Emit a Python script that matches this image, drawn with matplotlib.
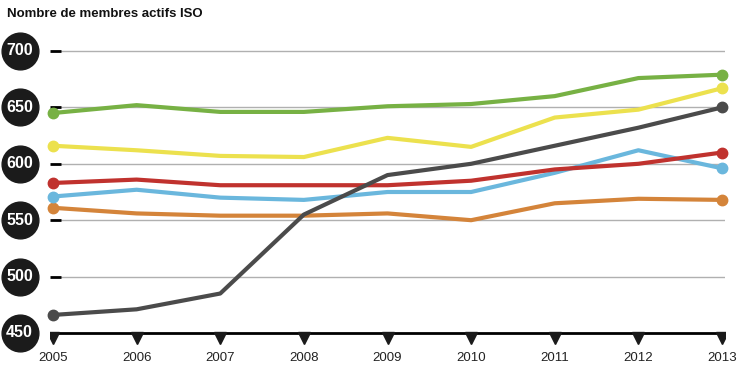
import matplotlib
matplotlib.use("Agg")
import matplotlib.pyplot as plt
import matplotlib.transforms as mtransforms

plt.rcParams['font.family'] = ['Liberation Sans', 'DejaVu Sans']

years = [2005, 2006, 2007, 2008, 2009, 2010, 2011, 2012, 2013]
y_ticks = [700, 650, 600, 550, 500, 450]

# series
green = [645, 652, 646, 646, 651, 653, 660, 676, 679]
yellow = [616, 612, 607, 606, 623, 615, 641, 648, 667]
red = [583, 586, 581, 581, 581, 585, 595, 600, 610]
blue = [571, 577, 570, 568, 575, 575, 592, 612, 596]
orange = [561, 556, 554, 554, 556, 550, 565, 569, 568]
grey = [466, 471, 485, 555, 590, 600, 616, 632, 650]

series = [
    (orange, '#d4843a'),
    (blue, '#6ab7dd'),
    (red, '#c0322e'),
    (yellow, '#ece14e'),
    (green, '#77b144'),
    (grey, '#4b4b4b'),
]

W, H = 738, 374
fig = plt.figure(figsize=(W / 100, H / 100), dpi=100)
ax = fig.add_axes([50 / W, 29 / H, 675 / W, 305 / H])
ax.set_xlim(2004.9641, 2013.0359)
ax.set_ylim(439.36, 709.75)
ax.axis('off')

# gridlines + little tick dashes
for v in y_ticks[:-1]:
    ax.plot([2005.084, 2013.036], [v, v], color='#b0b0b0', lw=1, zorder=1)
    ax.plot([2004.9641, 2005.10], [v, v], color='black', lw=2, zorder=2,
            solid_capstyle='butt')

# bottom axis line with triangle ticks
ax.plot([2004.9641, 2013.0359], [450, 450], color='black', lw=2, zorder=2,
        solid_capstyle='butt')
shift = mtransforms.offset_copy(ax.transData, fig=fig, x=0, y=-5.5, units='dots')
ax.plot(years, [450] * len(years), 'v', color='#1a1a1a', markersize=8,
        transform=shift, zorder=2)

for vals, col in series:
    ax.plot(years, vals, color=col, lw=3, zorder=3, clip_on=False,
            solid_joinstyle='round', solid_capstyle='round')
    ax.plot([years[0], years[-1]], [vals[0], vals[-1]], 'o', color=col,
            markersize=7.5, zorder=4, clip_on=False)

# round black value labels on the left
blend = mtransforms.blended_transform_factory(fig.transFigure, ax.transData)
for v in y_ticks:
    ax.scatter([19.5 / W], [v], s=700, color='#1b1b1b', transform=blend,
               clip_on=False, zorder=5)
    ax.text(19.5 / W, v, str(v), transform=blend, color='white',
            fontsize=11.5, fontweight='bold', ha='center', va='center',
            zorder=6, clip_on=False)

for yr in years:
    ax.text(yr, 450, str(yr), transform=mtransforms.offset_copy(
        ax.transData, fig=fig, x=0, y=-25, units='dots'),
        ha='center', va='center', fontsize=9.5, color='#222222', clip_on=False)

fig.text(7 / W, 1 - 14 / H, 'Nombre de membres actifs ISO', fontsize=9.5,
         fontweight='bold', ha='left', va='center', color='#111111')

fig.savefig('out.png', dpi=100)
